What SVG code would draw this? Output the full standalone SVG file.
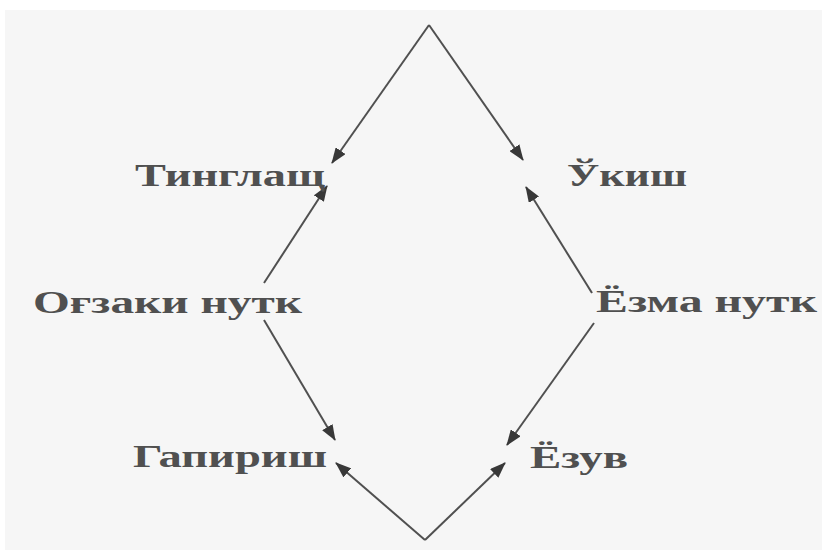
<svg xmlns="http://www.w3.org/2000/svg" width="824" height="550" viewBox="0 0 824 550">
  <style>
    .lbl { font-family: "Liberation Serif", "DejaVu Serif", serif; font-size: 31px; font-weight: bold; fill: #505050; }
    .edge { stroke: #505050; stroke-width: 2; fill: none; }
  </style>
  <defs>
    <marker id="arr" markerUnits="userSpaceOnUse" markerWidth="16" markerHeight="12" refX="15" refY="6" orient="auto">
      <path d="M0,0 L16,6 L0,12 Z" fill="#383838"/>
    </marker>
  </defs>
  <rect x="0" y="0" width="824" height="550" fill="#ffffff"/>
  <rect x="5" y="10" width="817" height="540" fill="#f6f6f6"/>
  <g id="connectors">
    <line class="edge" x1="429" y1="25" x2="332" y2="163" marker-end="url(#arr)"/>
    <line class="edge" x1="429" y1="25" x2="523" y2="160" marker-end="url(#arr)"/>
    <line class="edge" x1="264" y1="283" x2="327" y2="186" marker-end="url(#arr)"/>
    <line class="edge" x1="592" y1="293" x2="526" y2="187" marker-end="url(#arr)"/>
    <line class="edge" x1="264" y1="320" x2="335" y2="440" marker-end="url(#arr)"/>
    <line class="edge" x1="594" y1="323" x2="507" y2="445" marker-end="url(#arr)"/>
    <line class="edge" x1="425" y1="540" x2="336" y2="463" marker-end="url(#arr)"/>
    <line class="edge" x1="425" y1="540" x2="505" y2="463" marker-end="url(#arr)"/>
  </g>
  <g id="tinglash"><text class="lbl" x="135" y="186" textLength="190" lengthAdjust="spacingAndGlyphs">Тинглащ</text></g>
  <g id="ukish"><text class="lbl" x="567" y="186" textLength="120" lengthAdjust="spacingAndGlyphs">Ўкиш</text></g>
  <g id="ogzaki"><text class="lbl" x="33" y="313" textLength="269" lengthAdjust="spacingAndGlyphs">Оғзаки нутк</text></g>
  <g id="yozma"><text class="lbl" x="596" y="312" textLength="221" lengthAdjust="spacingAndGlyphs">Ёзма нутк</text></g>
  <g id="gapirish"><text class="lbl" x="133" y="467" textLength="194" lengthAdjust="spacingAndGlyphs">Гапириш</text></g>
  <g id="yozuv"><text class="lbl" x="530" y="468" textLength="98" lengthAdjust="spacingAndGlyphs">Ёзув</text></g>
</svg>
